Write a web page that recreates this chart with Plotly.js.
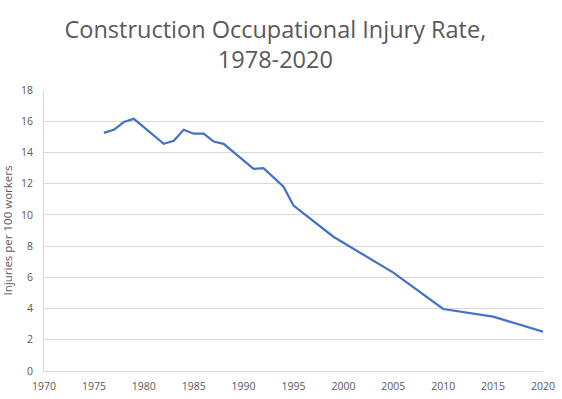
<!DOCTYPE html>
<html><head><meta charset="utf-8">
<script src="https://cdn.plot.ly/plotly-3.0.1.min.js"></script>
<style>html,body{margin:0;padding:0;background:#fff;}#chart{width:562px;height:399px;}</style>
</head><body><div id="chart"></div>
<script>
const years = [1976,1977,1978,1979,1982,1983,1984,1985,1986,1987,1988,1991,1992,1994,1995,1999,2005,2010,2015,2020];
const rates = [15.25,15.45,15.95,16.15,14.55,14.75,15.45,15.2,15.2,14.7,14.55,12.95,13.0,11.8,10.6,8.6,6.3,3.97,3.48,2.52];
const xTicks = [1970,1975,1980,1985,1990,1995,2000,2005,2010,2015,2020];
const yTicks = [0,2,4,6,8,10,12,14,16,18];

Plotly.newPlot('chart', [{
  x: years, y: rates, type: 'scatter', mode: 'lines',
  line: {color: '#4472C4', width: 2.25}, hoverinfo: 'none'
}], {
  width: 562, height: 399,
  margin: {l: 44, r: 19, t: 90, b: 28},
  paper_bgcolor: '#fff', plot_bgcolor: '#fff',
  font: {family: 'Open Sans, sans-serif', color: '#595959', size: 10},
  title: {text: 'Construction Occupational Injury Rate,<br>1978-2020', font: {size: 23.5, color: '#595959'},
          x: 0.49, xanchor: 'center', yref: 'container', y: 0.905, yanchor: 'top'},
  xaxis: {range: [1970, 2020], tickvals: xTicks, ticktext: xTicks.map(String), showgrid: false, zeroline: false,
          showline: true, linecolor: '#d9d9d9', linewidth: 1, ticks: '', ticklabelstandoff: 5,
          tickfont: {size: 10.5, color: '#595959'}},
  yaxis: {range: [0, 18], tickvals: yTicks, showgrid: true, gridcolor: '#d9d9d9', gridwidth: 1, zeroline: false,
          showline: true, linecolor: '#d9d9d9', ticks: '', ticklabelstandoff: 8, tickfont: {size: 10.5, color: '#595959'},
          title: {text: 'Injuries per 100 workers', font: {size: 11.5, color: '#595959'}, standoff: 7}},
  showlegend: false
}, {staticPlot: true});
</script></body></html>
